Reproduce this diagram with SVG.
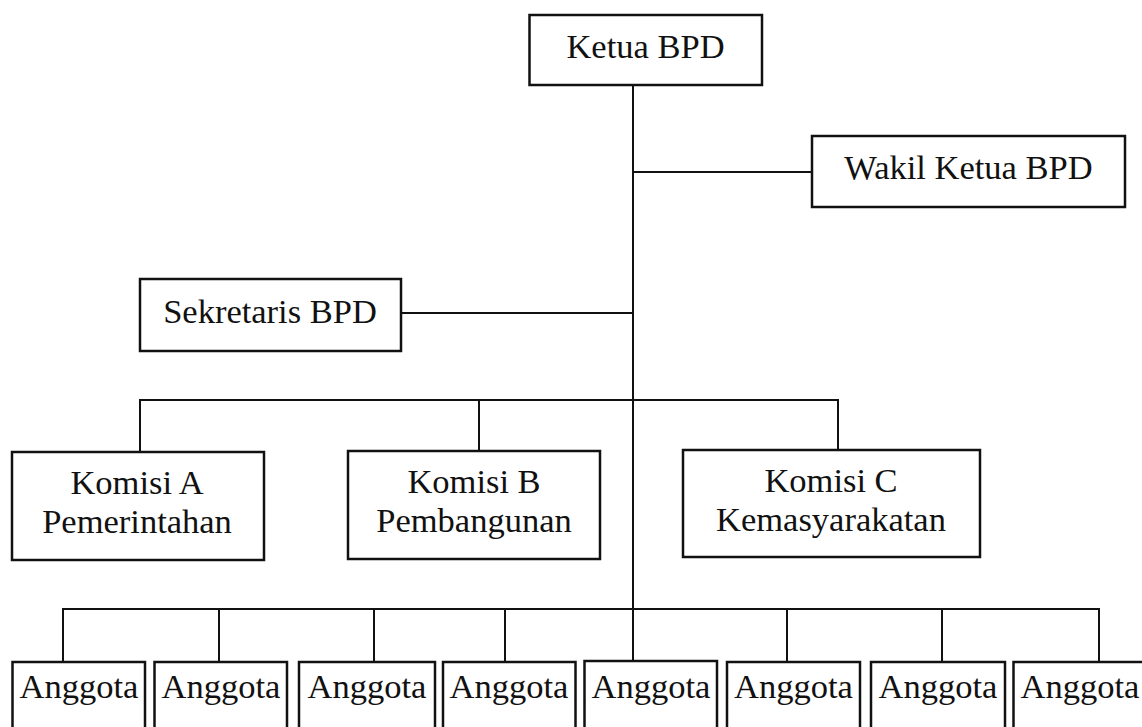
<svg xmlns="http://www.w3.org/2000/svg" width="1142" height="727" viewBox="0 0 1142 727">
<style>
.box{fill:#fff;stroke:#111;stroke-width:2.5}
.ln{fill:none;stroke:#111;stroke-width:2}
</style>
<rect width="1142" height="727" fill="#fff"/>
<g id="connectors">
<path class="ln" d="M633 85V661"/>
<path class="ln" d="M633 172H812"/>
<path class="ln" d="M401 313H633"/>
<path class="ln" d="M140 452V400H838V451"/>
<path class="ln" d="M479 400V451"/>
<path class="ln" d="M63 662V609H1099V662"/>
<path class="ln" d="M219 609V662M374 609V662M505 609V662M787 609V662M942 609V662"/>
</g>
<g font-family="Liberation Serif, Times New Roman, serif" font-size="34.5" fill="#111" text-anchor="middle">
<g id="ketua"><rect class="box" x="529.5" y="15" width="232.5" height="70"/><text x="645.5" y="58">Ketua BPD</text></g>
<g id="wakil"><rect class="box" x="812" y="136" width="313" height="71"/><text x="968.5" y="179">Wakil Ketua BPD</text></g>
<g id="sekretaris"><rect class="box" x="140" y="279" width="261" height="72"/><text x="270" y="323">Sekretaris BPD</text></g>
<g id="komisiA"><rect class="box" x="12" y="452" width="252" height="108"/><text x="137" y="494">Komisi A</text><text x="137" y="533">Pemerintahan</text></g>
<g id="komisiB"><rect class="box" x="348" y="451" width="252" height="108"/><text x="474" y="493">Komisi B</text><text x="474" y="532">Pembangunan</text></g>
<g id="komisiC"><rect class="box" x="683" y="450" width="297" height="107"/><text x="831" y="492">Komisi C</text><text x="831" y="531">Kemasyarakatan</text></g>
<g id="anggota1"><rect class="box" x="12.5" y="662" width="132.5" height="80"/><text x="79" y="698">Anggota</text></g>
<g id="anggota2"><rect class="box" x="154.5" y="662" width="132.5" height="80"/><text x="221" y="698">Anggota</text></g>
<g id="anggota3"><rect class="box" x="299" y="662" width="136" height="80"/><text x="367" y="698">Anggota</text></g>
<g id="anggota4"><rect class="box" x="443" y="662" width="132.5" height="80"/><text x="509" y="698">Anggota</text></g>
<g id="anggota5"><rect class="box" x="584.5" y="661" width="132.5" height="80"/><text x="651" y="698">Anggota</text></g>
<g id="anggota6"><rect class="box" x="727" y="662" width="133" height="80"/><text x="793.5" y="698">Anggota</text></g>
<g id="anggota7"><rect class="box" x="871" y="662" width="134" height="80"/><text x="938" y="698">Anggota</text></g>
<g id="anggota8"><rect class="box" x="1013.5" y="662" width="140" height="80"/><text x="1080" y="698">Anggota</text></g>
</g>
</svg>
